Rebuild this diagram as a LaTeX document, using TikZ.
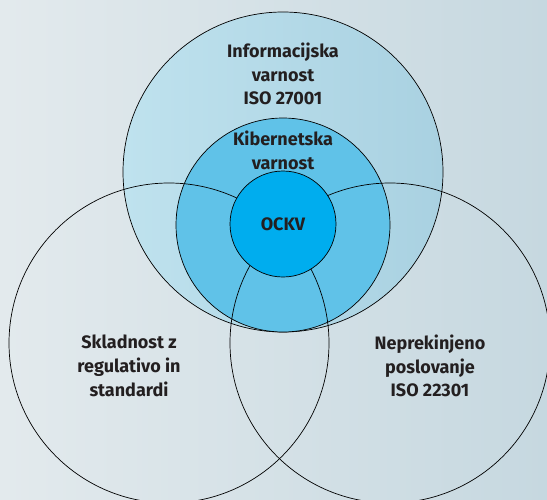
\documentclass[tikz,border=0pt]{standalone}
\usepackage{fontspec}
\setmainfont{Fira Sans}
\definecolor{fond}{HTML}{E3EAED}
\definecolor{fonddroite}{HTML}{C6D8E0}
\definecolor{infogauche}{HTML}{BFE2EE}
\definecolor{infodroite}{HTML}{A9D1E1}
\definecolor{kiber}{HTML}{60C2E8}
\definecolor{jedro}{HTML}{00ADEE}
\definecolor{besedilo}{HTML}{231F20}
\tikzset{
  ring/.style={circle, draw=black, line width=0.7pt, inner sep=0pt},
  napis/.style={align=center, text=besedilo, font=\fontsize{18}{23.7}\selectfont\bfseries}
}
\begin{document}
\begin{tikzpicture}[x=1pt, y=-1pt]
    \useasboundingbox (0,0) rectangle (547,499);
    \shade[left color=fond, right color=fonddroite] (0,0) rectangle (547,499);
    % krogi
    \node[ring, minimum size=320pt, left color=infogauche, right color=infodroite] (info) at (283,172) {};
    \node[ring, minimum size=214pt, fill=kiber] (kiber) at (283,225) {};
    \node[ring, minimum size=320pt] (skladnost) at (169,343) {};
    \node[ring, minimum size=320pt] (posl) at (390,343) {};
    \node[ring, minimum size=106pt, fill=jedro, napis] (ockv) at (283,224) {OCKV};
    % napisi
    \node[napis] (infotxt) at (283,74) {Informacijska\\varnost\\ISO 27001};
    \node[napis] (kibertxt) at (283,150) {Kibernetska\\varnost};
    \node[napis] (skltxt) at (129,366) {Skladnost z\\regulativo in\\standardi};
    \node[napis] (posltxt) at (430,366) {Neprekinjeno\\poslovanje\\ISO 22301};
\end{tikzpicture}
\end{document}
